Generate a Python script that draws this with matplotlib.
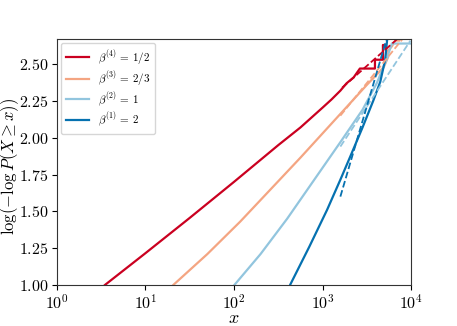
import numpy as np
import matplotlib
matplotlib.use("Agg")
import matplotlib.pyplot as plt
from matplotlib.ticker import NullLocator, FuncFormatter

plt.rcParams['mathtext.fontset'] = 'cm'
plt.rcParams['font.family'] = 'serif'
plt.rcParams['font.serif'] = ['cmr10', 'DejaVu Serif']
plt.rcParams['axes.formatter.use_mathtext'] = True

# Data (x as log10 x, y = log(-log P(X>=x)))
labels = [r'$\beta^{(4)}\,=\,1/2$', r'$\beta^{(3)}\,=\,2/3$',
          r'$\beta^{(2)}\,=\,1$', r'$\beta^{(1)}\,=\,2$']
colors = ['#ca0020', '#f4a582', '#92c5de', '#0571b0']

red_logx = [0.50, 0.545, 1.0, 1.5, 2.0, 2.5, 2.75, 3.0, 3.1, 3.2, 3.27, 3.35, 3.42,
            3.59, 3.59, 3.68, 3.68, 3.71, 3.71]
red_y = [0.975, 1.0, 1.215, 1.455, 1.70, 1.95, 2.07, 2.205, 2.26, 2.32, 2.37, 2.41, 2.47,
         2.47, 2.53, 2.53, 2.63, 2.63, 2.60]

salmon_logx = [1.27, 1.316, 1.7, 2.07, 2.5, 2.75, 3.0, 3.25, 3.5, 3.69, 3.74, 3.72, 3.78, 3.82, 3.86]
salmon_y = [0.97, 1.0, 1.21, 1.43, 1.705, 1.865, 2.03, 2.195, 2.36, 2.48, 2.55, 2.58, 2.62, 2.66, 2.66]

lblue_logx = [1.97, 2.005, 2.3, 2.6, 2.9, 3.2, 3.45, 3.61, 3.72, 3.78, 4.0]
lblue_y = [0.97, 1.0, 1.21, 1.45, 1.71, 1.97, 2.19, 2.37, 2.53, 2.64, 2.64]

blue_logx = [2.62, 2.633, 2.85, 3.05, 3.2, 3.31, 3.45, 3.57, 3.65, 3.705, 3.73]
blue_y = [0.97, 1.0, 1.26, 1.51, 1.715, 1.87, 2.07, 2.25, 2.38, 2.53, 2.68]

# dashed fit lines: endpoints
fit_logx = [[3.22, 3.85], [3.20, 3.90], [3.20, 3.99], [3.20, 3.74]]
fit_y = [[2.34, 2.675], [2.15, 2.67], [1.94, 2.66], [1.60, 2.71]]

curves = [(red_logx, red_y), (salmon_logx, salmon_y),
          (lblue_logx, lblue_y), (blue_logx, blue_y)]

fig = plt.figure(figsize=(4.57, 3.26), dpi=100)
ax = fig.add_axes([0.124, 0.126, 0.776, 0.754])

for (lx, yy), c, lab in zip(curves, colors, labels):
    ax.plot(10**np.array(lx), yy, color=c, lw=1.6, label=lab)

for lx, yy, c in zip(fit_logx, fit_y, colors):
    ax.plot(10**np.array(lx), yy, color=c, lw=1.3, ls='--')

ax.set_xscale('log')
ax.set_xlim(1, 1e4)
ax.set_ylim(1.0, 2.67)
ax.xaxis.set_minor_locator(NullLocator())
ax.set_yticks([1.0, 1.25, 1.5, 1.75, 2.0, 2.25, 2.5])
ax.yaxis.set_major_formatter(FuncFormatter(lambda v, p: r'$%.2f$' % v))
ax.tick_params(labelsize=11.5, pad=2.5, length=3.5)
for s in ax.spines.values():
    s.set_color('#333333')

ax.set_xlabel(r'$x$', fontsize=13)
ax.set_ylabel(r'$\log(-\log P(X \geq x))$', fontsize=12)
ax.xaxis.set_label_coords(0.5, -0.105)
ax.yaxis.set_label_coords(-0.1, 0.48)

ax.legend(loc='upper left', fontsize=8, handlelength=2.1, labelspacing=0.2,
          handletextpad=0.8, borderpad=0.45, borderaxespad=0.35)

fig.savefig('out.png', dpi=100)
